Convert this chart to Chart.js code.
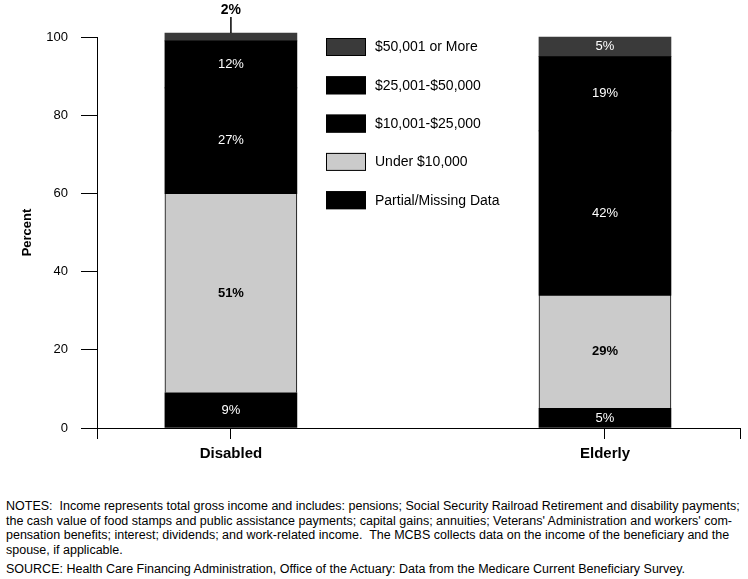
<!DOCTYPE html>
<html>
<head>
<meta charset="utf-8">
<script src="https://cdn.jsdelivr.net/npm/chart.js@4/dist/chart.umd.min.js"></script>
<style>
  body { margin: 0; background: #fff; }
  #wrap { position: relative; width: 748px; height: 579px; }
  #notes {
    position: absolute; left: 6px; top: 499px;
    font-family: "Liberation Sans", Arial, sans-serif; font-size: 12.5px;
    line-height: 14.6px; color: #000; white-space: nowrap;
  }
  #notes .src { margin-top: 5px; }
</style>
</head>
<body>
<div id="wrap">
  <canvas id="myChart" width="748" height="492"></canvas>
  <div id="notes">
    NOTES:&nbsp; Income represents total gross income and includes: pensions; Social Security Railroad Retirement and disability payments;<br>
    the cash value of food stamps and public assistance payments; capital gains; annuities; Veterans' Administration and workers' com-<br>
    pensation benefits; interest; dividends; and work-related income.&nbsp; The MCBS collects data on the income of the beneficiary and the<br>
    spouse, if applicable.
    <div class="src">SOURCE: Health Care Financing Administration, Office of the Actuary: Data from the Medicare Current Beneficiary Survey.</div>
  </div>
</div>
<script>
const categories = ['Disabled', 'Elderly'];
const seriesNames = ['Partial/Missing Data', 'Under $10,000', '$10,001-$25,000', '$25,001-$50,000', '$50,001 or More'];
const partialMissing = [9, 5];
const under10k = [51, 29];
const from10to25k = [27, 42];
const from25to50k = [12, 19];
const over50k = [2, 5];

const FONT = "'Liberation Sans', Arial, sans-serif";
const fills = ['#000000', '#cbcbcb', '#000000', '#000000', '#3a3a3a'];
const borders = [0, 1, 0, 0, 0];
const labelColors = ['#fff', '#000', '#fff', '#fff', '#fff'];
const labelWeights = ['normal', 'bold', 'normal', 'normal', 'normal'];

const seriesValues = [partialMissing, under10k, from10to25k, from25to50k, over50k];

const datasets = seriesNames.map((name, i) => ({
  label: name,
  data: seriesValues[i].map((v, j) => ({ x: j, y: v })),
  backgroundColor: fills[i],
  borderColor: '#000',
  borderWidth: borders[i],
  barThickness: 132,
  clip: false
}));

const valueLabels = {
  id: 'valueLabels',
  afterDatasetsDraw(chart) {
    const c = chart.ctx;
    c.save();
    c.textAlign = 'center';
    c.textBaseline = 'middle';
    chart.data.datasets.forEach((ds, i) => {
      chart.getDatasetMeta(i).data.forEach((el, j) => {
        const v = ds.data[j].y;
        if (v < 3) {
          c.strokeStyle = '#000';
          c.lineWidth = 1.5;
          c.beginPath();
          c.moveTo(el.x, el.y);
          c.lineTo(el.x, el.y - 16);
          c.stroke();
          c.fillStyle = '#000';
          c.font = 'bold 14px ' + FONT;
          c.fillText(v + '%', el.x, el.y - 23);
        } else {
          c.fillStyle = labelColors[i];
          c.font = labelWeights[i] + ' 13px ' + FONT;
          c.fillText(v + '%', el.x, (el.y + el.base) / 2);
        }
      });
    });
    c.restore();
  }
};

const boxLegend = {
  id: 'boxLegend',
  afterDraw(chart) {
    const c = chart.ctx;
    c.save();
    c.font = '14px ' + FONT;
    c.textBaseline = 'middle';
    c.textAlign = 'left';
    const items = chart.data.datasets.slice().reverse();
    items.forEach((ds, k) => {
      const y = 38 + k * 38.3;
      c.fillStyle = ds.backgroundColor;
      c.fillRect(326, y, 40, 18);
      c.strokeStyle = '#000';
      c.lineWidth = 1;
      c.strokeRect(326.5, y + 0.5, 39, 17);
      c.fillStyle = '#000';
      c.fillText(ds.label, 375, y + 9.5);
    });
    c.restore();
  }
};

new Chart(document.getElementById('myChart'), {
  type: 'bar',
  data: { datasets: datasets },
  options: {
    responsive: false,
    animation: false,
    layout: { padding: { top: 37, right: 8, left: 0, bottom: 0 } },
    plugins: {
      legend: { display: false },
      tooltip: { enabled: false }
    },
    scales: {
      x: {
        type: 'linear',
        stacked: true,
        offset: false,
        min: -0.358,
        max: 1.361,
        afterFit: (s) => { s.height = 64; },
        afterBuildTicks: (s) => {
          s.ticks = [s.min, 0, 1, s.max].map(v => ({ value: v }));
        },
        border: { display: true, color: '#000', width: 1 },
        grid: { offset: false, drawOnChartArea: false, drawTicks: true, tickLength: 11, color: '#000' },
        ticks: {
          padding: 6,
          color: '#000',
          autoSkip: false,
          maxRotation: 0,
          font: { family: FONT, size: 15, weight: 'bold' },
          callback: (v) => (Number.isInteger(v) && categories[v] !== undefined) ? categories[v] : ''
        }
      },
      y: {
        stacked: true,
        min: 0,
        max: 100,
        afterFit: (s) => { s.width = 97; },
        border: { display: true, color: '#000', width: 1 },
        grid: { drawOnChartArea: false, drawTicks: true, tickLength: 16, color: '#000' },
        title: {
          display: true,
          text: 'Percent',
          color: '#000',
          padding: { top: 20, bottom: 0 },
          font: { family: FONT, size: 13, weight: 'bold' }
        },
        ticks: {
          stepSize: 20,
          padding: 13,
          color: '#000',
          font: { family: FONT, size: 13 }
        }
      }
    }
  },
  plugins: [valueLabels, boxLegend]
});
</script>
</body>
</html>
